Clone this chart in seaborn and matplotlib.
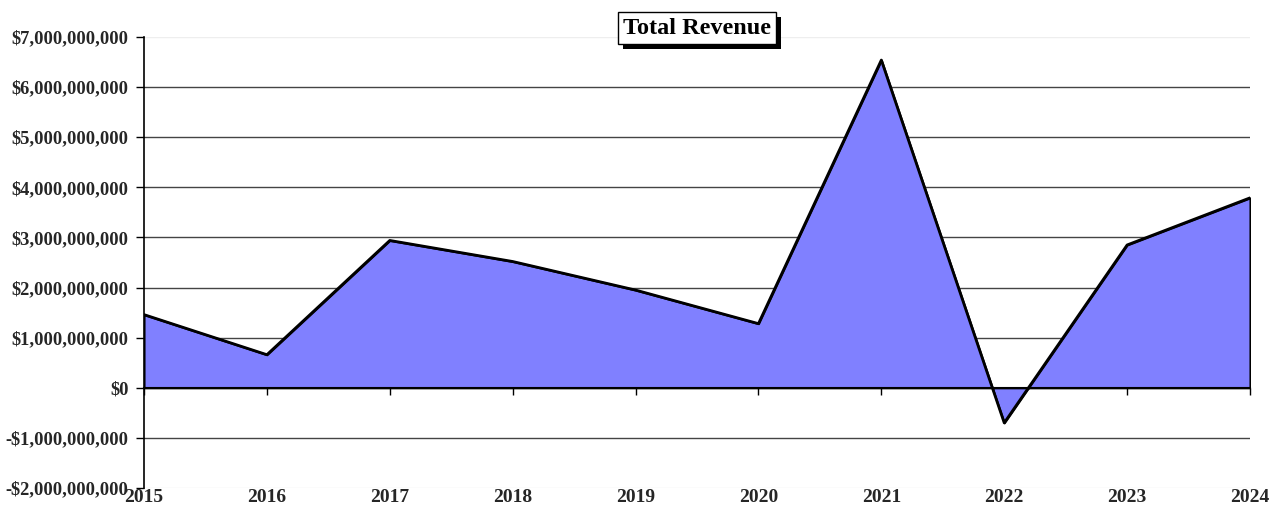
import pandas as pd
import matplotlib
matplotlib.use("Agg")
import matplotlib.pyplot as plt
import matplotlib.ticker as mticker
from matplotlib.patches import Rectangle
import seaborn as sns

# yearly total revenue, in billions of dollars
years = [2015, 2016, 2017, 2018, 2019, 2020, 2021, 2022, 2023, 2024]
revenue_bn = [1.46, 0.66, 2.94, 2.52, 1.95, 1.28, 6.54, -0.70, 2.85, 3.79]
y_ticks_bn = [-2, -1, 0, 1, 2, 3, 4, 5, 6, 7]
title = "Total Revenue"

df = pd.DataFrame({"year": years, "revenue": [v * 1e9 for v in revenue_bn]})

sns.set_style("white")
plt.rcParams["font.family"] = ["Liberation Serif", "DejaVu Serif"]
plt.rcParams["font.weight"] = "bold"

fig = plt.figure(figsize=(12.77, 5.23), dpi=100)
ax = fig.add_axes([144 / 1277, 1 - 488 / 523, (1250 - 144) / 1277, (488 - 37) / 523])

# gridlines
for t in y_ticks_bn:
    if t in (y_ticks_bn[0], y_ticks_bn[-1]):
        ax.axhline(t * 1e9, color="#eeeeee", lw=1, zorder=0)
    elif t != 0:
        ax.axhline(t * 1e9, color="#444444", lw=1, zorder=0)

ax.fill_between(df["year"], df["revenue"], 0, facecolor="#8080ff",
                edgecolor="black", lw=1.5, zorder=1)
sns.lineplot(data=df, x="year", y="revenue", color="black", lw=2, ax=ax, zorder=3)

ax.set_xlim(years[0], years[-1])
ax.set_ylim(y_ticks_bn[0] * 1e9, y_ticks_bn[-1] * 1e9)
ax.set_xlabel("")
ax.set_ylabel("")

ax.set_yticks([t * 1e9 for t in y_ticks_bn])
ax.yaxis.set_major_formatter(mticker.FuncFormatter(
    lambda v, p: ("-$" if v < 0 else "$") + f"{abs(int(round(v))):,}"))
ax.tick_params(axis="y", direction="out", length=6, width=1, color="black",
               labelsize=13.3, left=True, pad=5)

# category axis crosses at zero; labels sit under the plot
for s in ["top", "right"]:
    ax.spines[s].set_visible(False)
ax.spines["left"].set_color("black")
ax.spines["left"].set_linewidth(1.2)
ax.spines["bottom"].set_position(("data", 0))
ax.spines["bottom"].set_color("black")
ax.spines["bottom"].set_linewidth(1.5)
ax.spines["bottom"].set_zorder(4)
ax.set_xticks(years)
ax.tick_params(axis="x", direction="out", length=5, width=1, color="black",
               bottom=True, labelbottom=False)

sec = ax.secondary_xaxis(0)
sec.set_xticks(years)
sec.set_xticklabels([str(y) for y in years])
sec.tick_params(length=0, labelsize=14, pad=1)
sec.spines["bottom"].set_visible(False)

for lab in ax.get_yticklabels() + sec.get_xticklabels():
    lab.set_fontweight("bold")

# title box with drop shadow
t = fig.text(697 / 1277, 1 - 28 / 523, title, ha="center", va="center",
             fontsize=17.5, fontweight="bold", color="black", zorder=5,
             bbox=dict(boxstyle="square,pad=0.22", fc="white", ec="black", lw=1))
fig.canvas.draw()
bb = t.get_bbox_patch().get_window_extent()
fig.patches.append(Rectangle((bb.x0 + 5, bb.y0 - 5), bb.width, bb.height,
                             transform=None, fc="black", ec="none", zorder=4))

fig.savefig("out.png", dpi=100)
